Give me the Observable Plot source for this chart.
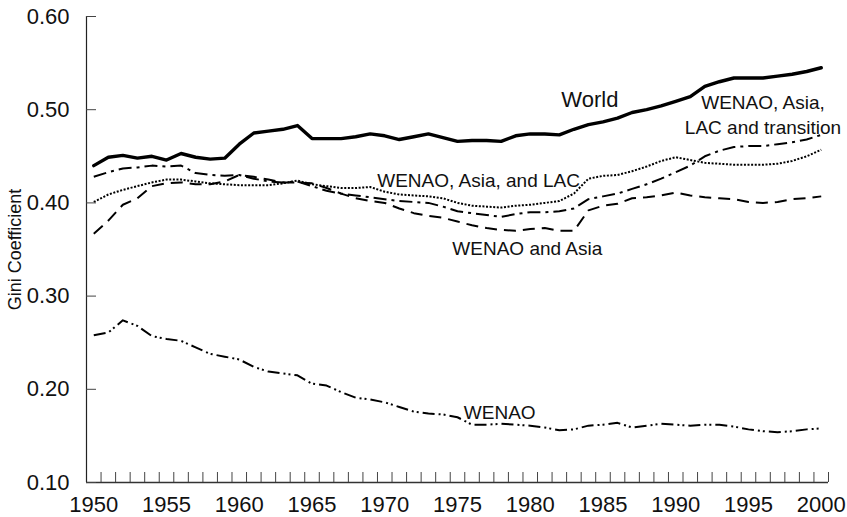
<!DOCTYPE html>
<html>
<head>
<meta charset="utf-8">
<script src="https://cdn.jsdelivr.net/npm/d3@7"></script>
<script src="https://cdn.jsdelivr.net/npm/@observablehq/plot@0.6"></script>
<style>
  html, body { margin: 0; padding: 0; background: #fff; }
  svg { display: block; }
</style>
</head>
<body>
<div id="chart"></div>
<script>
const years = [1950,1951,1952,1953,1954,1955,1956,1957,1958,1959,1960,1961,1962,1963,1964,1965,1966,1967,1968,1969,1970,1971,1972,1973,1974,1975,1976,1977,1978,1979,1980,1981,1982,1983,1984,1985,1986,1987,1988,1989,1990,1991,1992,1993,1994,1995,1996,1997,1998,1999,2000];

const world = [0.440,0.449,0.451,0.448,0.450,0.446,0.453,0.449,0.447,0.448,0.463,0.475,0.477,0.479,0.483,0.469,0.469,0.469,0.471,0.474,0.472,0.468,0.471,0.474,0.470,0.466,0.467,0.467,0.466,0.472,0.474,0.474,0.473,0.479,0.484,0.487,0.491,0.497,0.500,0.504,0.509,0.514,0.525,0.530,0.534,0.534,0.534,0.536,0.538,0.541,0.545];

const wenaoAsiaLacTransition = [0.428,0.433,0.437,0.438,0.440,0.439,0.440,0.432,0.430,0.429,0.430,0.426,0.423,0.422,0.423,0.418,0.413,0.410,0.408,0.406,0.404,0.402,0.401,0.400,0.396,0.391,0.389,0.387,0.385,0.388,0.390,0.390,0.391,0.394,0.404,0.407,0.410,0.415,0.420,0.426,0.433,0.440,0.450,0.456,0.460,0.461,0.461,0.463,0.465,0.468,0.473];

const wenaoAsiaLac = [0.401,0.409,0.414,0.418,0.422,0.425,0.425,0.423,0.421,0.420,0.419,0.419,0.419,0.421,0.424,0.420,0.418,0.416,0.416,0.417,0.412,0.409,0.408,0.407,0.405,0.400,0.397,0.396,0.395,0.397,0.398,0.400,0.402,0.410,0.426,0.429,0.430,0.434,0.439,0.445,0.449,0.446,0.443,0.442,0.441,0.441,0.441,0.442,0.445,0.450,0.457];

const wenaoAsia = [0.367,0.381,0.398,0.405,0.418,0.421,0.422,0.420,0.420,0.423,0.430,0.428,0.425,0.422,0.422,0.421,0.416,0.410,0.405,0.402,0.400,0.394,0.389,0.386,0.384,0.380,0.376,0.373,0.371,0.370,0.372,0.373,0.370,0.370,0.392,0.397,0.399,0.405,0.406,0.408,0.411,0.408,0.406,0.405,0.404,0.401,0.400,0.401,0.404,0.405,0.407];

const wenao = [0.258,0.261,0.274,0.268,0.257,0.254,0.252,0.245,0.238,0.235,0.232,0.224,0.219,0.217,0.215,0.206,0.204,0.197,0.191,0.189,0.186,0.181,0.176,0.174,0.173,0.170,0.162,0.162,0.163,0.162,0.161,0.159,0.156,0.157,0.161,0.162,0.164,0.159,0.161,0.163,0.162,0.161,0.162,0.162,0.160,0.157,0.155,0.154,0.155,0.157,0.158];

const yTicks = [0.10, 0.20, 0.30, 0.40, 0.50, 0.60];
const xTickLabels = [1950, 1955, 1960, 1965, 1970, 1975, 1980, 1985, 1990, 1995, 2000];
const yAxisTitle = "Gini Coefficient";

// series label annotations (data units)
const seriesLabels = [
  {text: "World", year: 1984.1, gini: 0.510, big: true},
  {text: "WENAO, Asia,\nLAC and transition", year: 1996.0, gini: 0.496, big: false},
  {text: "WENAO, Asia, and LAC", year: 1976.45, gini: 0.426, big: false},
  {text: "WENAO and Asia", year: 1979.8, gini: 0.353, big: false},
  {text: "WENAO", year: 1977.9, gini: 0.177, big: false}
];

const series = [
  {name: "World", values: world, width: 3.4, dash: null},
  {name: "WENAO, Asia, LAC and transition", values: wenaoAsiaLacTransition, width: 2, dash: "13,5,3,5"},
  {name: "WENAO, Asia, and LAC", values: wenaoAsiaLac, width: 2, dash: "2,1.6"},
  {name: "WENAO and Asia", values: wenaoAsia, width: 2, dash: "12,7"},
  {name: "WENAO", values: wenao, width: 2, dash: "12,4,2,3,2,4"}
];

const rows = series.flatMap(s => years.map((yr, i) => ({series: s.name, year: yr, gini: s.values[i]})));
const boundaries = years.map(y => y + 0.5);

const FONT = "Liberation Sans, Arial, sans-serif";

const lineMarks = series.map(s => Plot.line(rows.filter(r => r.series === s.name), {
  x: "year", y: "gini", stroke: "#000", strokeWidth: s.width,
  strokeDasharray: s.dash, strokeLinejoin: "round", strokeLinecap: s.dash ? "butt" : "round"
}));

const chart = Plot.plot({
  width: 847,
  height: 517,
  marginLeft: 86,
  marginRight: 19,
  marginTop: 16,
  marginBottom: 35,
  style: {fontFamily: FONT, fontSize: "18px", color: "#111", background: "#fff"},
  x: {domain: [years[0] - 0.5, years[years.length - 1] + 0.5], axis: null},
  y: {domain: [0.10, 0.60], axis: null},
  marks: [
    ...lineMarks,
    Plot.ruleX([years[0] - 0.5], {stroke: "#222", strokeWidth: 1.2}),
    Plot.ruleY([0.10], {stroke: "#333", strokeWidth: 1.5}),
    Plot.axisY({ticks: yTicks, tickSize: -10, tickPadding: 27, tickFormat: d3.format(".2f"),
                fontSize: 22, label: null, stroke: "#444"}),
    Plot.axisX({ticks: boundaries, tickSize: -10, tickFormat: () => "", label: null, stroke: "#444"}),
    Plot.axisX({ticks: xTickLabels, tickSize: 0, tickPadding: 14, tickFormat: d => String(d),
                fontSize: 22, label: null}),
    Plot.text([yAxisTitle], {frameAnchor: "left", textAnchor: "middle", rotate: -90, dx: -71, fontSize: 18, fill: "#111"}),
    Plot.text(seriesLabels.filter(d => d.big), {x: "year", y: "gini", text: "text", fontSize: 22, fill: "#111"}),
    Plot.text(seriesLabels.filter(d => !d.big), {x: "year", y: "gini", text: "text", fontSize: 19,
                lineHeight: 1.35, fill: "#111"})
  ]
});

document.getElementById("chart").appendChild(chart);
</script>
</body>
</html>
